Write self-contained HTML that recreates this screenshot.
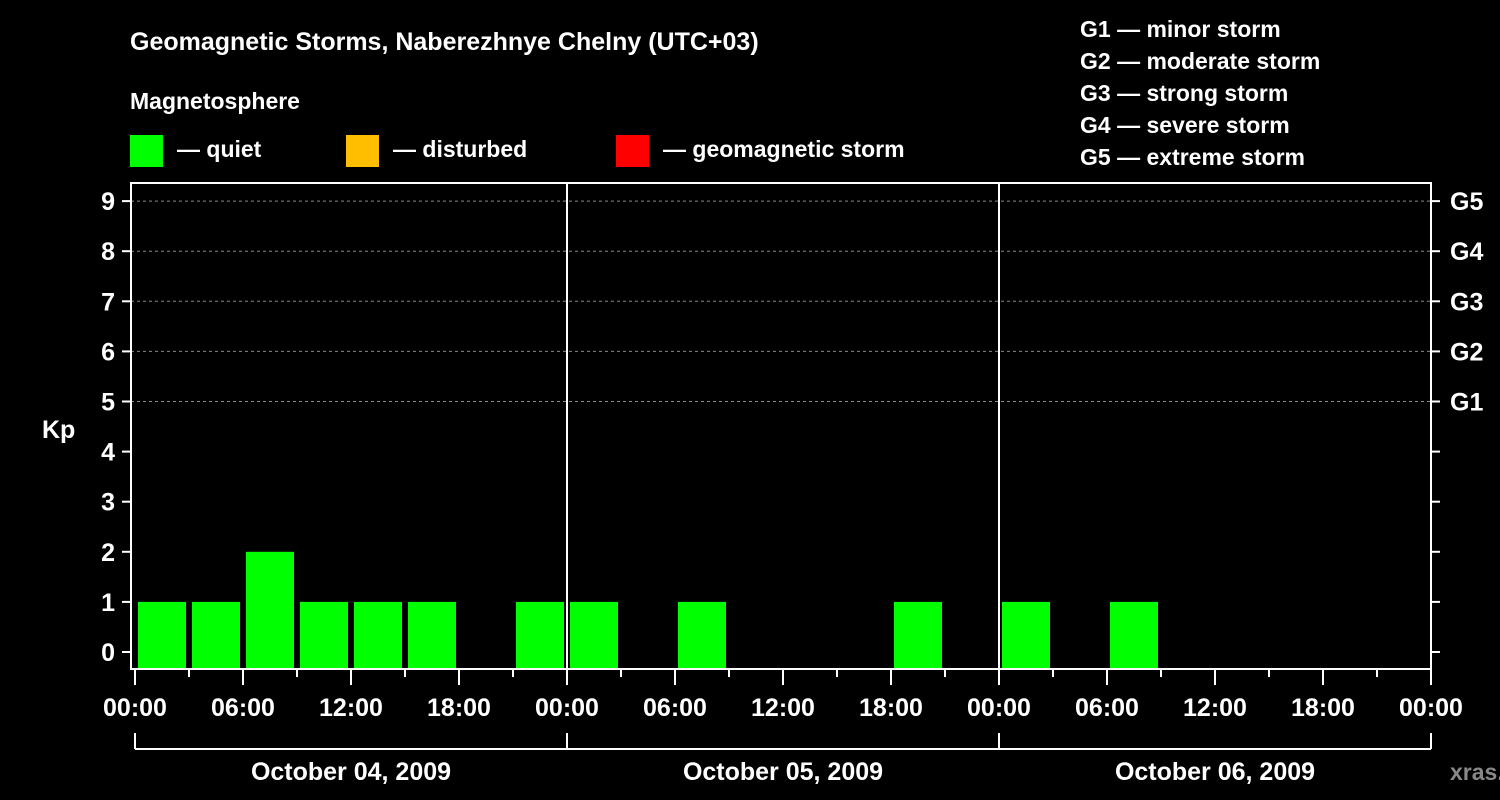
<!DOCTYPE html>
<html><head><meta charset="utf-8"><style>
body{margin:0;background:#000;width:1500px;height:800px;overflow:hidden}
svg{display:block}
text{font-family:"Liberation Sans",Arial,sans-serif;font-weight:bold;fill:#fff}
</style></head><body>
<svg id="c" width="1500" height="800">
<text x="130" y="50" font-size="25">Geomagnetic Storms, Naberezhnye Chelny (UTC+03)</text>
<text x="130" y="109" font-size="23">Magnetosphere</text>
<g><rect x="130" y="135" width="33" height="32" fill="#00ff00"/><text x="177" y="157" font-size="23">— quiet</text></g>
<g><rect x="346" y="135" width="33" height="32" fill="#ffbf00"/><text x="393" y="157" font-size="23">— disturbed</text></g>
<g><rect x="616" y="135" width="33" height="32" fill="#ff0000"/><text x="663" y="157" font-size="23">— geomagnetic storm</text></g>
<g font-size="23">
<text x="1080" y="37">G1 — minor storm</text><text x="1080" y="69">G2 — moderate storm</text><text x="1080" y="101">G3 — strong storm</text><text x="1080" y="133">G4 — severe storm</text><text x="1080" y="165">G5 — extreme storm</text></g>
<text x="42" y="438" font-size="25">Kp</text>
<text x="1450" y="780" font-size="23" fill="#888" style="fill:#888">xras.ru</text>
<g id="plot"></g>
</svg>
<script>
const days = ["October 04, 2009","October 05, 2009","October 06, 2009"];
const kpValues = [1,1,2,1,1,1,0,1, 1,0,1,0,0,0,1,0, 1,0,1,0,0,0,0,0];
const hourLabels = ["00:00","06:00","12:00","18:00"];
const gLabels = ["G1","G2","G3","G4","G5"];
const NS="http://www.w3.org/2000/svg";
const g=document.getElementById('plot');
const X0=135,SLOT=54,L=131,R=1431,T=183,B=669;
const y=v=>652-v*50.1;
const x=s=>X0+s*SLOT;
function mk(t,a,txt){const e=document.createElementNS(NS,t);for(const k in a)e.setAttribute(k,a[k]);if(txt!==undefined)e.textContent=txt;g.appendChild(e);return e;}
// grid
for(let v=5;v<=9;v++){const e=mk('line',{x1:L,x2:R,y1:y(v),y2:y(v),stroke:'#888','stroke-dasharray':'3,3','stroke-width':1});

}
// bars
kpValues.forEach((v,i)=>{if(v<=0)return;const col=v>=5?'#ff0000':(v>=4?'#ffbf00':'#00ff00');
const e=mk('rect',{x:x(i)+3,y:y(v),width:48,height:B-y(v),fill:col});

});
// frame
const f=mk('rect',{x:L,y:T,width:R-L,height:B-T,fill:'none',stroke:'#fff','stroke-width':2});


for(let d=1;d<days.length;d++){const e=mk('line',{x1:x(d*8),x2:x(d*8),y1:T,y2:B,stroke:'#fff','stroke-width':2});

}
// y ticks
for(let v=0;v<=9;v++){mk('line',{x1:122,x2:L,y1:y(v),y2:y(v),stroke:'#fff','stroke-width':2});
mk('line',{x1:R,x2:1440,y1:y(v),y2:y(v),stroke:'#fff','stroke-width':2});
const t=mk('text',{x:115,y:y(v)+9,'font-size':25,'text-anchor':'end'},v);

}
gLabels.forEach((l,i)=>{const t=mk('text',{x:1450,y:y(5+i)+9,'font-size':25},l);

});
// x ticks
for(let s=0;s<=kpValues.length;s++){const maj=s%2==0;mk('line',{x1:x(s),x2:x(s),y1:B,y2:maj?685:677,stroke:'#fff','stroke-width':2});
if(maj){const t=mk('text',{x:x(s),y:716,'font-size':25,'text-anchor':'middle'},hourLabels[(s/2)%4]);

}}
// day brackets
mk('line',{x1:x(0),x2:x(kpValues.length),y1:749,y2:749,stroke:'#fff','stroke-width':2});
days.forEach((d,i)=>{mk('line',{x1:x(i*8),x2:x(i*8),y1:733,y2:749,stroke:'#fff','stroke-width':2});
const t=mk('text',{x:x(i*8+4),y:780,'font-size':25,'text-anchor':'middle'},d);

});
mk('line',{x1:x(kpValues.length),x2:x(kpValues.length),y1:733,y2:749,stroke:'#fff','stroke-width':2});
</script>
</body></html>
